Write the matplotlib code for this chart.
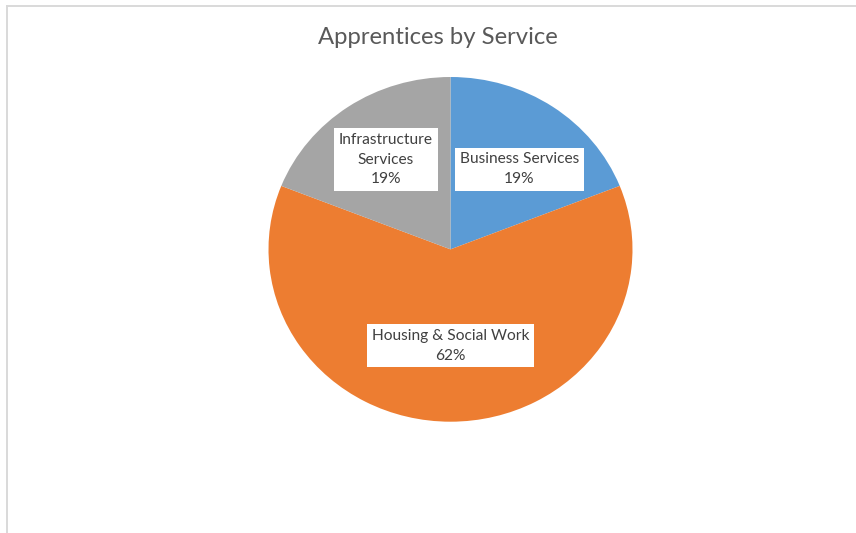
import numpy as np
import matplotlib
matplotlib.use("Agg")
import matplotlib.pyplot as plt
from matplotlib.lines import Line2D

# Apprentices per service (percent of total)
services = ["Business Services", "Housing & Social Work", "Infrastructure\nServices"]
shares = [19, 62, 19]
colours = ["#5B9BD5", "#ED7D31", "#A5A5A5"]

# label placement: radius (fraction of pie) and small angular nudge in degrees
label_radius = [0.60, 0.56, 0.63]
label_nudge = [-5, 0, 0]

plt.rcParams["font.family"] = ["Lato", "DejaVu Sans"]

fig = plt.figure(figsize=(8.56, 5.33), dpi=100)

# chart area frame: only the top and left edges show
fig.add_artist(Line2D([6.5 / 856, 6.5 / 856], [0, 1 - 5.5 / 533],
                      transform=fig.transFigure, color="#D9D9D9", lw=1.4))
fig.add_artist(Line2D([6.5 / 856, 1], [1 - 5.5 / 533, 1 - 5.5 / 533],
                      transform=fig.transFigure, color="#D9D9D9", lw=1.4))

fig.text(437.5 / 856, 1 - 37 / 533, "Apprentices by Service", ha="center", va="center",
         fontsize=17.2, color="#595959")

ax = fig.add_axes([268.5 / 856, 1 - 421.7 / 533, 364 / 856, 344.7 / 533])
wedges, _ = ax.pie(shares, colors=colours, startangle=90, counterclock=False,
                   radius=1, center=(0, 0), normalize=True)
ax.set_aspect("auto")
ax.set_xlim(-1, 1)
ax.set_ylim(-1, 1)
ax.axis("off")

total = sum(shares)
for w, name, val, r, nudge in zip(wedges, services, shares, label_radius, label_nudge):
    mid = np.deg2rad((w.theta1 + w.theta2) / 2 + nudge)
    x, y = r * np.cos(mid), r * np.sin(mid)
    pct = 100 * val / total
    ax.text(x, y, f"{name}\n{pct:.0f}%", ha="center", va="center", fontsize=11.2,
            color="#404040", linespacing=1.5, multialignment="center",
            bbox=dict(boxstyle="square,pad=0.3", fc="white", ec="none"))

fig.savefig("out.png", dpi=100)
